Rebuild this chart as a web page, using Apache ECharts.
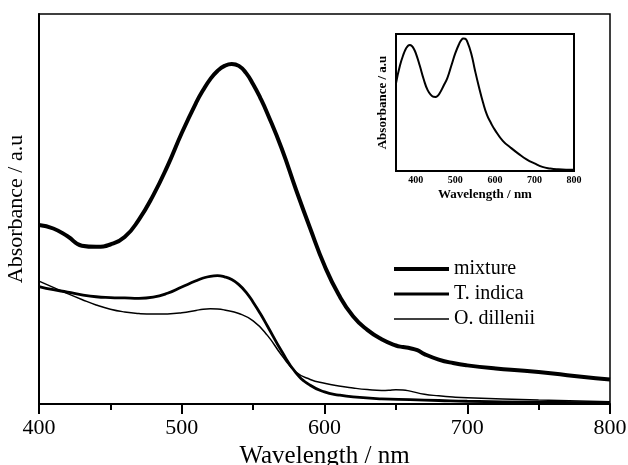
<!DOCTYPE html>
<html>
<head>
<meta charset="utf-8">
<script src="https://cdn.jsdelivr.net/npm/echarts@6/dist/echarts.min.js"></script>
<style>html,body{margin:0;padding:0;background:#fff}#c{width:628px;height:465px}</style>
</head>
<body>
<div id="c"></div>
<script>
// Main chart data
const mixWl  = [400,410,420,430,440,450,460,470,480,490,500,510,515,520,525,530,535,540,545,550,555,560,570,580,590,600,610,620,630,640,650,655,660,665,670,680,690,700,720,740,760,780,800];
const mixAbs = [45.9,45,43,40.6,40.3,40.9,42.8,47.3,53.5,61,69.5,77.2,80.5,83.3,85.4,86.7,87.2,86.7,84.9,82,78.5,74.5,65.5,55,45,35.5,28,22.5,19,16.6,15,14.6,14.3,13.8,12.8,11.4,10.5,9.9,9.1,8.5,7.8,7,6.3];
const tiWl   = [400,410,420,430,440,450,460,470,480,490,500,510,515,520,525,530,535,540,545,550,555,560,570,580,590,600,610,620,640,660,680,700,750,800];
const tiAbs  = [30.1,29.3,28.7,28,27.5,27.3,27.2,27.1,27.4,28.4,30,31.6,32.3,32.75,32.9,32.6,31.9,30.6,28.7,26.1,23.2,20,13.5,8,4.8,3.1,2.3,1.8,1.3,1.1,0.9,0.7,0.45,0.3];
const odWl   = [400,410,420,430,440,450,460,470,480,490,500,510,515,520,525,530,540,550,560,570,580,590,600,610,620,630,640,645,650,655,660,670,680,690,700,750,800];
const odAbs  = [31.5,29.9,28.3,26.8,25.4,24.3,23.6,23.2,23.05,23.1,23.4,24,24.3,24.4,24.35,24.1,23.2,21.3,17.6,12.5,8.2,6.3,5.3,4.6,4.1,3.7,3.45,3.5,3.65,3.6,3.3,2.5,2.1,1.8,1.6,1,0.6];
// Inset data (mixture)
const insWl  = [350,360,370,375,380,385,390,395,400,410,420,430,440,445,450,455,460,470,480,490,500,510,515,520,525,530,540,550,560,570,580,590,600,620,640,660,680,700,720,740,760,780,800];
const insAbs = [64,77,86,89.3,91.3,92,91.3,89.2,86,77,67,59,55,54.2,54.1,54.8,56.5,62,68,77,86,93,95.5,96.7,96.5,94.5,86,73,61,50,41,35,30,22,17,12.5,8.5,5.5,3,1.8,1.2,1,1];
const names  = ['mixture','T. indica','O. dillenii'];

const pairs = (xs, ys) => xs.map((x, i) => [x, ys[i]]);
const serif = 'Liberation Serif, Times New Roman, serif';
const widths = [4, 2.8, 1.5];

const chart = echarts.init(document.getElementById('c'), null, {renderer: 'canvas'});
chart.setOption({
  animation: false,
  backgroundColor: '#fff',
  grid: [
    {left: 39, right: 18, top: 14, bottom: 61, containLabel: false, outerBoundsMode: 'none',
     show: true, borderColor: '#000', borderWidth: 1.5},
    {left: 396, right: 54, top: 34, bottom: 294, containLabel: false, outerBoundsMode: 'none',
     show: true, borderColor: '#000', borderWidth: 2, backgroundColor: '#fff'}
  ],
  legend: {
    data: names.map((n, i) => ({name: n, lineStyle: {width: widths[i], color: '#000'}})),
    orient: 'vertical',
    left: 392, top: 259, padding: 0,
    itemWidth: 55, itemHeight: 14, itemGap: 5,
    itemStyle: {opacity: 0},
    textStyle: {fontFamily: serif, fontSize: 20, color: '#000'}
  },
  xAxis: [
    {gridIndex: 0, type: 'value', min: 400, max: 800, interval: 100,
     name: 'Wavelength / nm', nameLocation: 'middle', nameGap: 39,
     nameTextStyle: {fontFamily: serif, fontSize: 25, color: '#000'},
     axisLine: {lineStyle: {color: '#000', width: 2}},
     axisTick: {length: 10, lineStyle: {color: '#000', width: 2}},
     minorTick: {show: true, splitNumber: 2, length: 6, lineStyle: {color: '#000', width: 2}},
     axisLabel: {fontFamily: serif, fontSize: 22, color: '#000', margin: 13},
     splitLine: {show: false}},
    {gridIndex: 1, type: 'value', min: 350, max: 800, interval: 50,
     name: 'Wavelength / nm', nameLocation: 'middle', nameGap: 17,
     nameTextStyle: {fontFamily: serif, fontSize: 13, fontWeight: 'bold', color: '#000'},
     axisLine: {lineStyle: {color: '#000', width: 2}},
     axisTick: {show: false},
     axisLabel: {fontFamily: serif, fontSize: 10, fontWeight: 'bold', color: '#000', margin: 4,
       formatter: v => (v >= 400 && v % 100 === 0 ? v : '')},
     splitLine: {show: false}}
  ],
  yAxis: [
    {gridIndex: 0, type: 'value', min: 0, max: 100,
     name: 'Absorbance / a.u', nameLocation: 'middle', nameGap: 12,
     nameTextStyle: {fontFamily: serif, fontSize: 22, color: '#000'},
     axisLine: {show: true, lineStyle: {color: '#000', width: 2}},
     axisTick: {show: false}, axisLabel: {show: false}, splitLine: {show: false}},
    {gridIndex: 1, type: 'value', min: 0, max: 100,
     name: 'Absorbance / a.u', nameLocation: 'middle', nameGap: 7,
     nameTextStyle: {fontFamily: serif, fontSize: 13, fontWeight: 'bold', color: '#000'},
     axisLine: {show: true, lineStyle: {color: '#000', width: 2}},
     axisTick: {show: false}, axisLabel: {show: false}, splitLine: {show: false}}
  ],
  series: [
    {name: names[0], type: 'line', xAxisIndex: 0, yAxisIndex: 0, smooth: 0.5, symbol: 'none',
     data: pairs(mixWl, mixAbs), lineStyle: {color: '#000', width: widths[0]}, itemStyle: {color: '#000'}},
    {name: names[1], type: 'line', xAxisIndex: 0, yAxisIndex: 0, smooth: 0.5, symbol: 'none',
     data: pairs(tiWl, tiAbs), lineStyle: {color: '#000', width: widths[1]}, itemStyle: {color: '#000'}},
    {name: names[2], type: 'line', xAxisIndex: 0, yAxisIndex: 0, smooth: 0.5, symbol: 'none',
     data: pairs(odWl, odAbs), lineStyle: {color: '#000', width: widths[2]}, itemStyle: {color: '#000'}},
    {name: 'inset', type: 'line', xAxisIndex: 1, yAxisIndex: 1, smooth: 0.5, symbol: 'none',
     data: pairs(insWl, insAbs), lineStyle: {color: '#000', width: 2}, itemStyle: {color: '#000'}}
  ]
});
</script>
</body>
</html>
